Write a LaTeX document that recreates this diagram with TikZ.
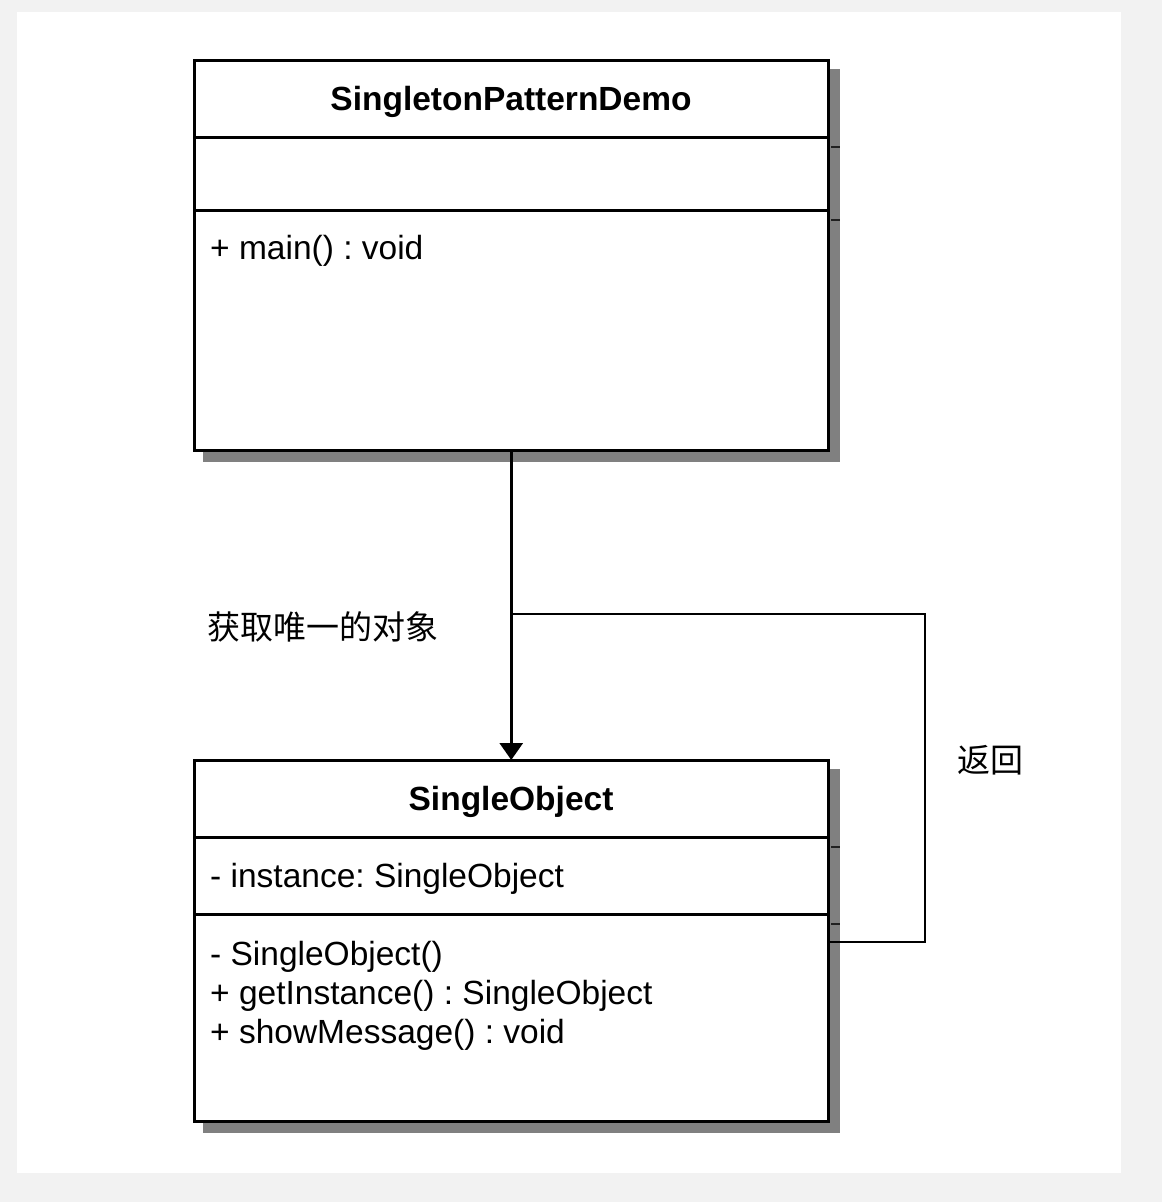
\documentclass[tikz,border=0pt]{standalone}
\usepackage{fontspec}
\setmainfont{Liberation Sans}
\newfontfamily\cjk{Noto Sans CJK SC}
\usetikzlibrary{arrows.meta,shadows}
\definecolor{pagegray}{HTML}{F2F2F2}
\definecolor{shadegray}{HTML}{808080}
\definecolor{tickgray}{HTML}{202020}
\frenchspacing
\begin{document}
\begin{tikzpicture}[x=1pt,y=-1pt,
  classbox/.style={draw=black, line width=3pt, fill=white, rectangle,
    inner sep=0pt, outer sep=0pt, anchor=north west, minimum width=634.5pt,
    drop shadow={shadow xshift=10pt, shadow yshift=-10pt, opacity=1,
      fill=shadegray, draw=shadegray, line width=3pt}},
  divider/.style={draw=black, line width=3pt},
  shadetick/.style={draw=tickgray, line width=2pt},
  umltext/.style={inner sep=0pt, font=\fontsize{33.5pt}{39pt}\selectfont, anchor=base west},
  umltitle/.style={umltext, font=\fontsize{33.5pt}{39pt}\selectfont\bfseries, anchor=base},
  connector/.style={draw=black, line width=3pt},
  returnline/.style={draw=black, line width=2pt},
  cjklabel/.style={inner sep=0pt, font=\fontsize{33pt}{39pt}\selectfont\cjk, anchor=west}
]
% page and panel
\useasboundingbox (0,0) rectangle (1162,1202);
\fill[pagegray] (0,0) rectangle (1162,1202);
\fill[white] (17,12) rectangle (1121,1173);

% class SingletonPatternDemo
\node[classbox, minimum height=390pt] (demo) at (194,60.5) {};
\draw[divider] (demo.west |- 0,137) -- (demo.east |- 0,137);
\draw[divider] (demo.west |- 0,210) -- (demo.east |- 0,210);
\draw[shadetick] (831,147) -- (840,147);
\draw[shadetick] (831,220) -- (840,220);
\node[umltitle] (demotitle) at (511,110) {SingletonPatternDemo};
\node[umltext] (demomain) at (210,259) {+ main() : void};

% class SingleObject
\node[classbox, minimum height=361.5pt] (obj) at (194,760) {};
\draw[divider] (obj.west |- 0,837) -- (obj.east |- 0,837);
\draw[divider] (obj.west |- 0,914) -- (obj.east |- 0,914);
\draw[shadetick] (831,847) -- (840,847);
\draw[shadetick] (831,924) -- (840,924);
\node[umltitle] (objtitle) at (511,810) {SingleObject};
\node[umltext] (objfield) at (210,887) {- instance: SingleObject};
\node[umltext] (objctor) at (210,965) {- SingleObject()};
\node[umltext] (objget) at (210,1004) {+ getInstance() : SingleObject};
\node[umltext] (objshow) at (210,1043) {+ showMessage() : void};

% call and return
\draw[connector, -{Triangle[length=17pt,width=23pt]}] (demo.south) -- (obj.north);
\coordinate (retstart) at (511,614);
\coordinate (retbend) at (925,941.5);
\draw[returnline] (retstart) -| (retbend) -- (obj.east |- retbend);

\node[cjklabel] (getlabel) at (207,627) {获取唯一的对象};
\node[cjklabel] (retlabel) at (957,760) {返回};
\end{tikzpicture}
\end{document}
